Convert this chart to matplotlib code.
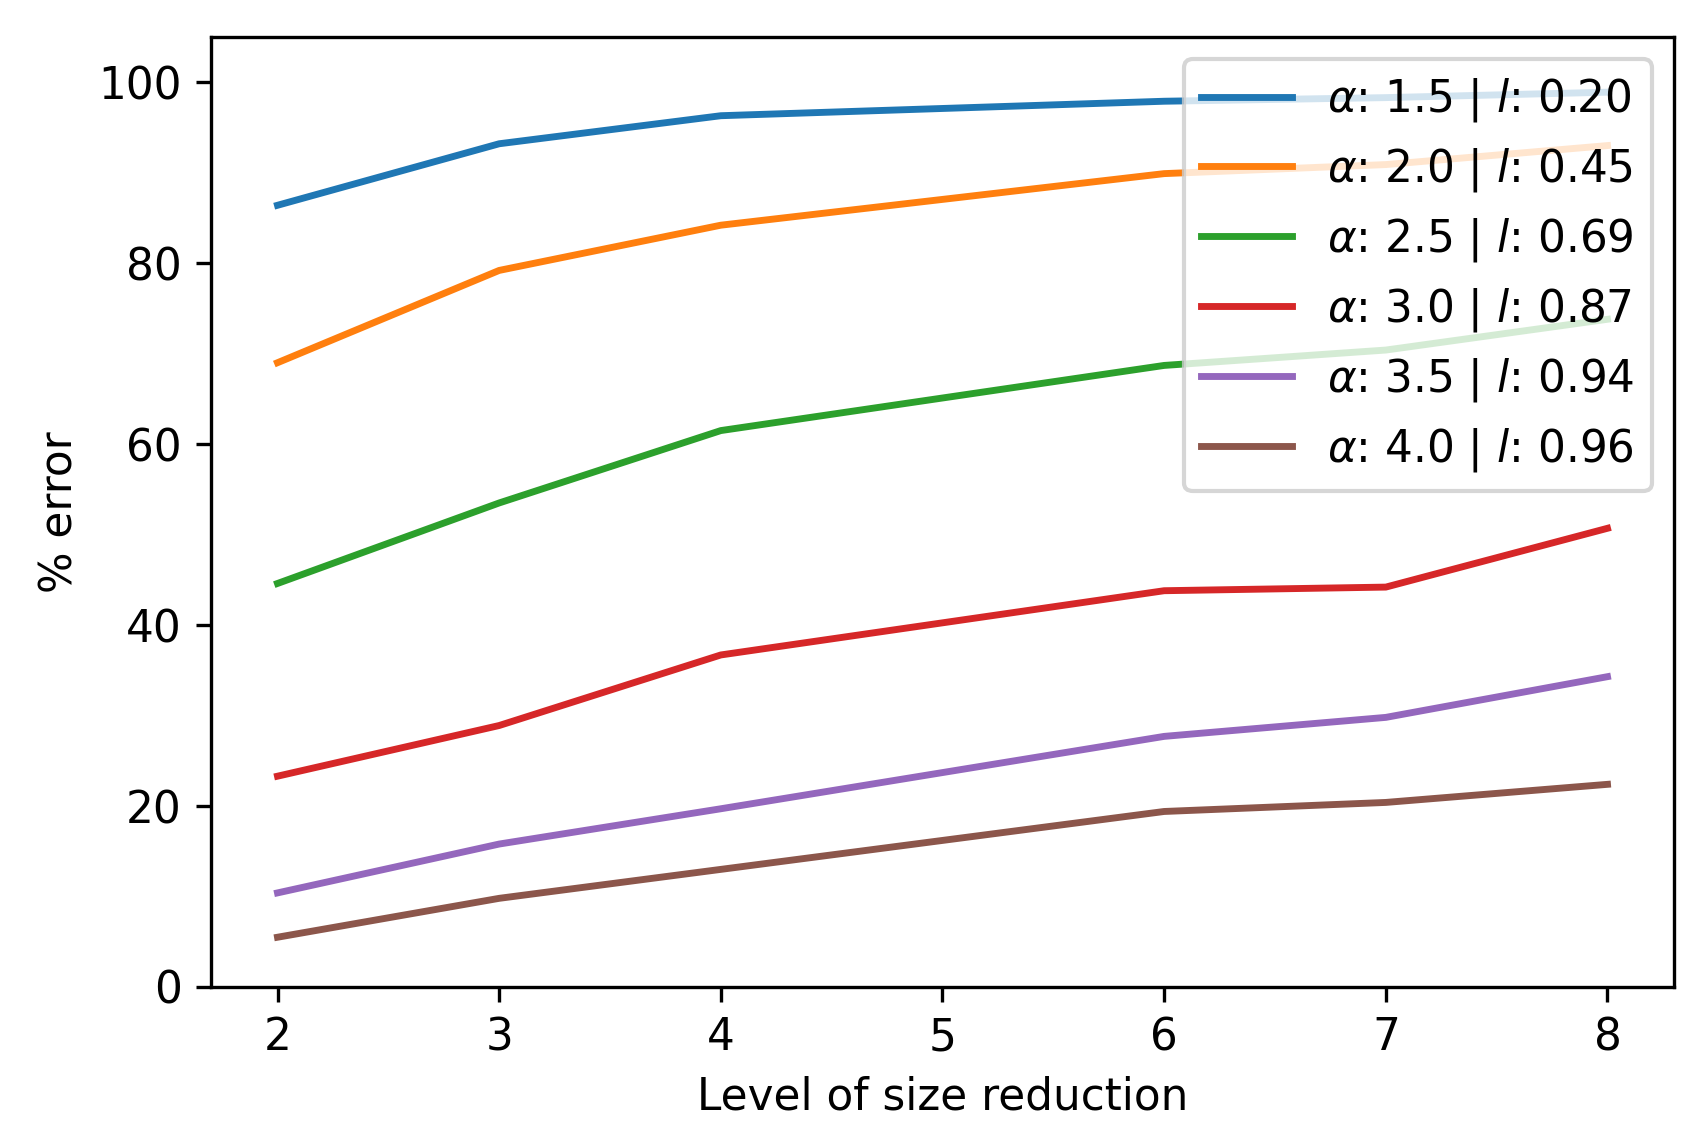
import numpy as np
import matplotlib
matplotlib.use("Agg")
import matplotlib.pyplot as plt

plt.rcParams['font.size'] = 10.5
plt.rcParams['lines.linewidth'] = 1.65

# size reduction levels (no run at level 5)
levels = [2, 3, 4, 6, 7, 8]

alphas = [1.5, 2.0, 2.5, 3.0, 3.5, 4.0]
l_vals = [0.20, 0.45, 0.69, 0.87, 0.94, 0.96]

err_a15 = [86.4, 93.2, 96.3, 97.9, 98.3, 98.9]
err_a20 = [69.0, 79.2, 84.2, 89.9, 90.9, 93.0]
err_a25 = [44.6, 53.5, 61.5, 68.7, 70.4, 73.8]
err_a30 = [23.3, 28.9, 36.7, 43.8, 44.2, 50.7]
err_a35 = [10.4, 15.8, 19.7, 27.7, 29.8, 34.3]
err_a40 = [5.5, 9.8, 13.0, 19.4, 20.4, 22.4]

errors = [err_a15, err_a20, err_a25, err_a30, err_a35, err_a40]

fig = plt.figure(figsize=(1705 / 300, 1147 / 300), dpi=300)
ax = fig.add_axes([211 / 1705, 1 - 987 / 1147, (1674 - 211) / 1705, (987 - 37) / 1147])

for a, l, err in zip(alphas, l_vals, errors):
    ax.plot(levels, err, label=r'$\alpha$: %.1f | $l$: %.2f' % (a, l))

ax.set_ylim(0, 105)
ax.set_xlabel('Level of size reduction')
ax.set_ylabel('% error')
ax.legend(loc='upper right', handlelength=2.08)

fig.savefig('out.png', dpi=300)
